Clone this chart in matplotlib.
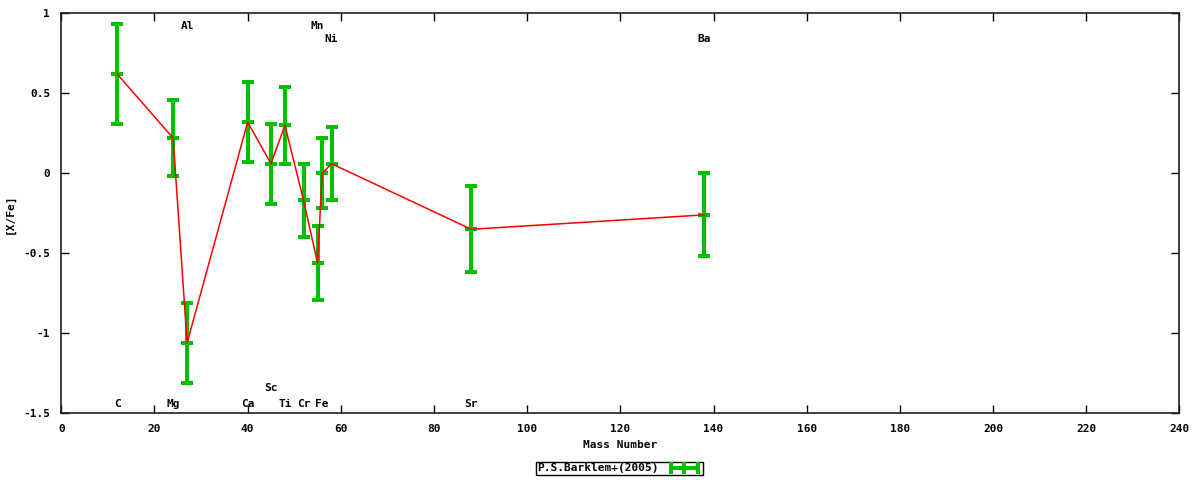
#!/usr/bin/env python3

import matplotlib
matplotlib.use('Agg')
import matplotlib.pyplot as plt
from matplotlib.lines import Line2D

# element, mass number, [X/Fe], error, label height
elements = ['C', 'Mg', 'Al', 'Ca', 'Sc', 'Ti', 'Cr', 'Mn', 'Fe', 'Ni', 'Sr', 'Ba']
mass = [12, 24, 27, 40, 45, 48, 52, 55, 56, 58, 88, 138]
xfe = [0.62, 0.22, -1.06, 0.32, 0.06, 0.30, -0.17, -0.56, 0.00, 0.06, -0.35, -0.26]
err = [0.31, 0.24, 0.25, 0.25, 0.25, 0.24, 0.23, 0.23, 0.22, 0.23, 0.27, 0.26]
label_y = [-1.44, -1.44, 0.92, -1.44, -1.34, -1.44, -1.44, 0.92, -1.44, 0.84, -1.44, 0.84]

xticks = list(range(0, 241, 20))
yticks = [-1.5, -1, -0.5, 0, 0.5, 1]
yticklabels = ['-1.5', '-1', '-0.5', '0', '0.5', '1']

GREEN = '#00c000'
FONT = 'DejaVu Sans Mono'


def main():
    fig = plt.figure(figsize=(12, 4.8), dpi=100)
    ax = fig.add_axes([0.0511, 0.139, 0.9828 - 0.0511, 0.9723 - 0.139])

    ax.errorbar(mass, xfe, yerr=err, fmt='_', color=GREEN, ms=8.6, mew=2.9,
                elinewidth=2.9, capsize=4.3, capthick=2.9, zorder=2)
    ax.plot(mass, xfe, color='red', lw=1.1, zorder=3)

    for name, m, ly in zip(elements, mass, label_y):
        ax.text(m, ly, name, ha='center', va='center', fontsize=8,
                family=FONT, fontweight='bold')

    ax.set_xlim(0, 240)
    ax.set_ylim(-1.5, 1)
    ax.set_xticks(xticks)
    ax.set_xticklabels([str(t) for t in xticks], family=FONT,
                       fontweight='bold', fontsize=8)
    ax.set_yticks(yticks)
    ax.set_yticklabels(yticklabels, family=FONT, fontweight='bold', fontsize=8)
    ax.tick_params(direction='in', top=True, right=True, length=6, width=1)
    ax.tick_params(axis='x', pad=8)
    ax.tick_params(axis='y', pad=8)
    for sp in ax.spines.values():
        sp.set_linewidth(1.2)
        sp.set_color('#202020')

    ax.set_xlabel('Mass Number', family=FONT, fontweight='bold', fontsize=8,
                  labelpad=4)
    ax.set_ylabel('[X/Fe]', family=FONT, fontweight='bold', fontsize=8,
                  labelpad=6)

    handle = Line2D([], [], color=GREEN, lw=2.9, marker='|', ms=8, mew=2.9)
    leg = fig.legend([handle], ['P.S.Barklem+(2005)'], loc='center',
                     bbox_to_anchor=(0.516, 0.024), numpoints=3,
                     markerfirst=False, fancybox=False, framealpha=1,
                     edgecolor='black', handlelength=3, borderpad=0.15,
                     handletextpad=0.8,
                     prop={'family': FONT, 'weight': 'bold', 'size': 8})
    leg.get_frame().set_linewidth(1)

    fig.savefig('out.png', dpi=100)


if __name__ == '__main__':
    main()
